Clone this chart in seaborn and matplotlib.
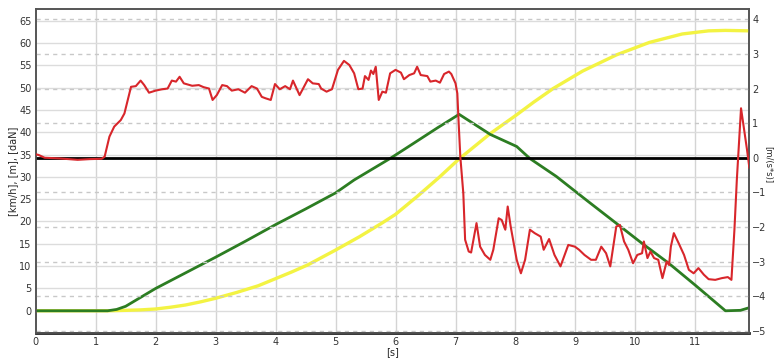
import numpy as np
import pandas as pd
import matplotlib
matplotlib.use("Agg")
import matplotlib.pyplot as plt
import seaborn as sns

# Rychlost [km/h] - zelená
speed_t = [0, 1.2, 1.35, 1.5, 1.75, 2.0, 2.5, 3.0, 3.5, 4.0, 4.5, 5.0, 5.31, 5.92, 6.3,
           6.69, 7.06, 7.58, 8.02, 8.24, 8.68, 9.2, 9.68, 10.1, 10.55, 11.0, 11.5, 11.75, 11.9]
speed_v = [0, 0, 0.3, 1.0, 3.0, 5.0, 8.5, 12.0, 15.6, 19.3, 22.8, 26.4, 29.3, 34.2, 37.5,
           40.9, 44.0, 39.5, 36.8, 34.1, 30.1, 24.6, 19.6, 15.2, 10.7, 5.7, 0, 0.1, 0.7]

# Dráha [m] - žlutá
dist_t = [0, 1.2, 1.5, 1.75, 2.0, 2.25, 2.5, 2.75, 3.0, 3.35, 3.71, 4.0, 4.27, 4.54, 5.0, 5.4,
          5.78, 6.0, 6.36, 6.72, 7.05, 7.58, 8.02, 8.3, 8.63, 9.12, 9.68, 10.23, 10.78,
          11.22, 11.5, 11.9]
dist_v = [0, 0, 0.1, 0.2, 0.4, 0.8, 1.3, 2.0, 2.8, 4.1, 5.6, 7.2, 8.7, 10.3, 13.6, 16.6,
          19.7, 21.6, 25.6, 29.8, 33.9, 39.7, 43.9, 46.7, 49.8, 53.7, 57.3, 60.1, 62.0,
          62.7, 62.8, 62.7]

# Zrychlení [m/(s*s)] - červená
acc_t = [0, 0.05, 0.15, 0.4, 0.7, 0.9, 1.1, 1.15, 1.23, 1.31, 1.42, 1.48, 1.59, 1.67, 1.75,
         1.81, 1.89, 2.0, 2.11, 2.2, 2.27, 2.34, 2.4, 2.47, 2.61, 2.72, 2.8, 2.89, 2.95, 3.02,
         3.11, 3.19, 3.27, 3.38, 3.49, 3.6, 3.69, 3.77, 3.83, 3.92, 3.99, 4.07, 4.16, 4.24,
         4.29, 4.4, 4.54, 4.62, 4.72, 4.76, 4.85, 4.94, 5.04, 5.14, 5.23, 5.31, 5.38, 5.45,
         5.49, 5.55, 5.59, 5.63, 5.67, 5.72, 5.78, 5.84, 5.91, 6.0, 6.09, 6.14, 6.23, 6.31,
         6.36, 6.42, 6.53, 6.58, 6.67, 6.74, 6.81, 6.89, 6.93, 7.0, 7.03, 7.05, 7.08, 7.13,
         7.16, 7.22, 7.26, 7.35, 7.41, 7.49, 7.58, 7.63, 7.72, 7.77, 7.83, 7.87, 7.92, 8.02,
         8.09, 8.16, 8.24, 8.32, 8.42, 8.47, 8.56, 8.65, 8.75, 8.88, 8.99, 9.06, 9.15, 9.26,
         9.34, 9.43, 9.51, 9.58, 9.68, 9.74, 9.81, 9.88, 9.96, 10.03, 10.11, 10.14, 10.2,
         10.25, 10.31, 10.38, 10.45, 10.52, 10.56, 10.59, 10.64, 10.72, 10.81, 10.89, 10.97,
         11.05, 11.14, 11.22, 11.33, 11.44, 11.54, 11.6, 11.65, 11.69, 11.76, 11.86, 11.9]
acc_v = [0.1, 0.08, 0.0, -0.02, -0.06, -0.04, -0.03, 0.03, 0.61, 0.9, 1.09, 1.28, 2.05, 2.07, 2.23,
         2.1, 1.88, 1.94, 1.98, 2.0, 2.23, 2.2, 2.34, 2.15, 2.08, 2.1, 2.04, 2.0, 1.67, 1.81,
         2.1, 2.07, 1.94, 1.98, 1.88, 2.07, 2.0, 1.76, 1.72, 1.67, 2.13, 1.98, 2.07, 1.98,
         2.23, 1.81, 2.27, 2.15, 2.13, 2.0, 1.91, 1.98, 2.54, 2.8, 2.68, 2.44, 1.98, 2.0,
         2.36, 2.25, 2.52, 2.42, 2.63, 1.67, 1.91, 1.88, 2.44, 2.54, 2.46, 2.27, 2.39, 2.44,
         2.63, 2.39, 2.36, 2.2, 2.23, 2.17, 2.42, 2.49, 2.42, 2.15, 1.86, 1.09, 0.03, -1.03,
         -2.37, -2.71, -2.74, -1.89, -2.57, -2.81, -2.95, -2.66, -1.75, -1.8, -2.08, -1.41, -1.99, -2.95,
         -3.34, -2.95, -2.08, -2.18, -2.28, -2.66, -2.35, -2.81, -3.14, -2.52, -2.57, -2.66, -2.81, -2.95,
         -2.95, -2.57, -2.76, -3.14, -1.99, -1.94, -2.42, -2.66, -3.05, -2.81, -2.76, -2.42, -2.9,
         -2.71, -2.9, -2.95, -3.48, -3.0, -3.1, -2.57, -2.18, -2.47, -2.81, -3.24, -3.34,
         -3.19, -3.38, -3.51, -3.53, -3.48, -3.45, -3.53, -2.08, -0.64, 1.43, 0.23, -0.3]

left_ticks = list(range(0, 70, 5))
right_ticks = list(range(-5, 5))
x_ticks = list(range(0, 12))

sns.set_style("white")
plt.rcParams['font.family'] = ['DejaVu Sans']

fig = plt.figure(figsize=(7.75, 3.59), dpi=100)
ax = fig.add_axes([0.046, 0.073, 0.921, 0.902])
ax2 = ax.twinx()

ax.set_xlim(0, 11.9)
ax.set_ylim(-4.93, 67.6)
ax2.set_ylim(-5.06, 4.30)

# mřížka
for t in x_ticks[1:]:
    ax.axvline(t, color="#d4d4d4", lw=1.0, zorder=0)
for t in left_ticks:
    ax.axhline(t, color="#dcdcdc", lw=1.0, zorder=0)
for t in right_ticks:
    ax2.axhline(t, color="#c8c8c8", lw=1.0, ls=(0, (3, 3)), zorder=0)

sns.lineplot(x=dist_t, y=dist_v, ax=ax, color="#f3f343", lw=2.4, zorder=3)
sns.lineplot(x=speed_t, y=speed_v, ax=ax, color="#2c7d22", lw=2.0, zorder=4)
ax2.axhline(0, color="black", lw=2.0, zorder=2)
sns.lineplot(x=acc_t, y=acc_v, ax=ax2, color="#d8262b", lw=1.5, zorder=5)

ax.set_xticks(x_ticks)
ax.set_yticks(left_ticks)
ax2.set_yticks(right_ticks)
ax.tick_params(labelsize=7, colors="#333333", length=0, pad=3)
ax2.tick_params(labelsize=7, colors="#333333", length=0, pad=2)

ax.set_xlabel("[s]", fontsize=7, labelpad=0)
ax.set_ylabel("[km/h], [m], [daN]", fontsize=7, labelpad=1)
ax2.set_ylabel("[m/(s*s)]", fontsize=6, rotation=270, va="center")
ax2.yaxis.set_label_coords(1.026, 0.52)

for a in (ax, ax2):
    for s in a.spines.values():
        s.set_color("#555555")
        s.set_linewidth(1.2)
ax.spines["bottom"].set_color("#222222")
ax.spines["bottom"].set_linewidth(2.0)

fig.savefig("out.png", dpi=100)
